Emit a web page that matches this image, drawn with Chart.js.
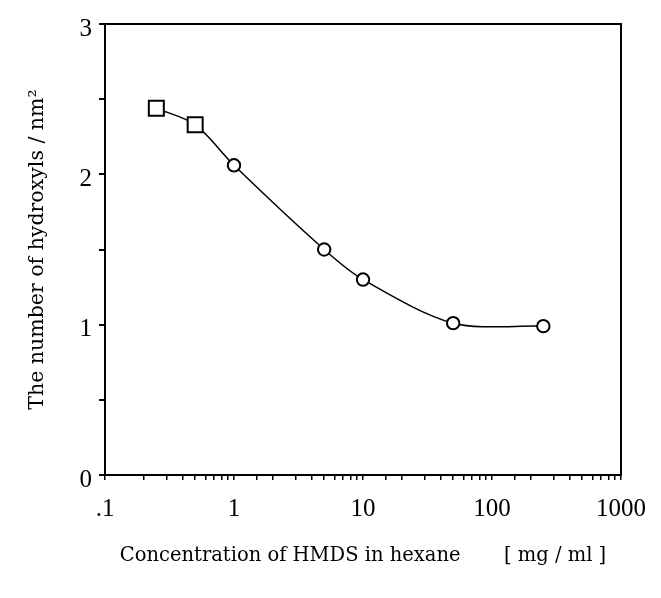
<!DOCTYPE html>
<html>
<head>
<meta charset="utf-8">
<script src="https://cdn.jsdelivr.net/npm/chart.js@4.4.1/dist/chart.umd.min.js"></script>
<style>
  html, body { margin: 0; padding: 0; background: #fff; }
  #wrap { width: 661px; height: 598px; position: relative; }
</style>
</head>
<body>
<div id="wrap"><canvas id="c" width="661" height="598"></canvas></div>
<script>
// Data
const squareX = [0.25, 0.5];
const squareY = [2.44, 2.33];
const circleX = [1, 5, 10, 50, 250];
const circleY = [2.06, 1.50, 1.30, 1.01, 0.99];
const curveX = [0.25, 0.5, 1, 5, 10, 50, 250];
const curveY = [2.44, 2.33, 2.06, 1.50, 1.30, 1.01, 0.99];
const xDecadeLabels = {0.1: '.1', 1: '1', 10: '10', 100: '100', 1000: '1000'};
const yTickLabels = [0, 1, 2, 3];

const toPts = (xs, ys) => xs.map((x, i) => ({x: x, y: ys[i]}));

const frame = {
  id: 'frame',
  afterDraw(chart) {
    const {ctx, chartArea: a} = chart;
    ctx.save();
    ctx.strokeStyle = '#000';
    ctx.lineWidth = 2;
    ctx.strokeRect(a.left, a.top, a.right - a.left, a.bottom - a.top);
    ctx.restore();
  }
};

const serif = "'Liberation Serif', 'Times New Roman', serif";
const titleFont = "'DejaVu Serif', serif";

new Chart(document.getElementById('c'), {
  type: 'scatter',
  data: {
    datasets: [
      {
        type: 'line',
        data: toPts(curveX, curveY),
        borderColor: '#000',
        borderWidth: 1.5,
        pointRadius: 0,
        tension: 0.3,
        fill: false,
        order: 2
      },
      {
        data: toPts(squareX, squareY),
        pointStyle: 'rect',
        pointRadius: 10.6,
        pointBorderWidth: 2,
        pointBackgroundColor: '#fff',
        pointBorderColor: '#000',
        order: 1
      },
      {
        data: toPts(circleX, circleY),
        pointStyle: 'circle',
        pointRadius: 6.2,
        pointBorderWidth: 2,
        pointBackgroundColor: '#fff',
        pointBorderColor: '#000',
        order: 1
      }
    ]
  },
  options: {
    responsive: false,
    animation: false,
    layout: { padding: { top: 24, right: 40, bottom: 0, left: 0 } },
    plugins: { legend: { display: false }, tooltip: { enabled: false } },
    scales: {
      x: {
        type: 'logarithmic',
        min: 0.1,
        max: 1000,
        afterFit(s) { s.height = 123; },
        grid: { display: true, drawOnChartArea: false, drawTicks: true, tickLength: 5, color: '#000', lineWidth: 1.5 },
        border: { display: true, color: '#000', width: 2 },
        ticks: {
          autoSkip: false,
          maxRotation: 0,
          padding: 14,
          color: '#000',
          font: { family: serif, size: 25 },
          callback(v) {
            const k = Object.keys(xDecadeLabels).find(d => Math.abs(Number(d) - v) < 1e-9 * Math.max(1, v));
            return k !== undefined ? xDecadeLabels[k] : '';
          }
        },
        title: {
          display: true,
          text: 'Concentration of HMDS in hexane       [ mg / ml ]',
          color: '#000',
          font: { family: titleFont, size: 19.5 },
          padding: { top: 0, bottom: 30 }
        }
      },
      y: {
        min: 0,
        max: 3,
        afterFit(s) { s.width = 105; },
        grid: { display: true, drawOnChartArea: false, drawTicks: true, tickLength: 6, color: '#000', lineWidth: 2 },
        border: { display: true, color: '#000', width: 2 },
        ticks: {
          stepSize: 0.5,
          padding: 7,
          labelOffset: 5,
          color: '#000',
          font: { family: serif, size: 25 },
          callback(v) { return yTickLabels.includes(v) ? String(v) : ''; }
        },
        title: {
          display: true,
          text: 'The number of hydroxyls / nm²',
          color: '#000',
          font: { family: titleFont, size: 20.5 },
          padding: { top: 25, bottom: 0 }
        }
      }
    }
  },
  plugins: [frame]
});
</script>
</body>
</html>
